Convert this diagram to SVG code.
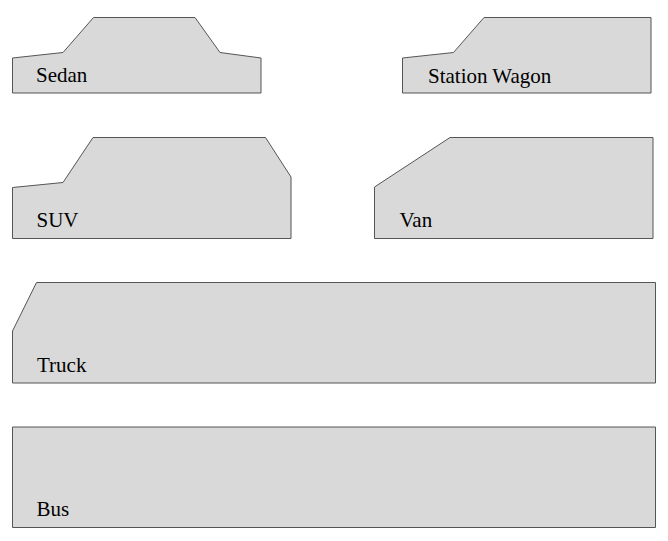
<svg xmlns="http://www.w3.org/2000/svg" width="668" height="541" viewBox="0 0 668 541">
<style>
.body{fill:#d9d9d9;stroke:#555555;stroke-width:1;stroke-linejoin:miter}
.lbl{font-size:21px;fill:#000000}
</style>
<rect width="668" height="541" fill="#ffffff"/>
<g font-family="Liberation Serif, Times New Roman, DejaVu Serif, serif">
<g id="sedan">
<path class="body" d="M12.5,58 L63,52.5 L93.5,17.5 L195,17.5 L220,52.5 L261,58 L261,93 L12.5,93 Z"/>
<text class="lbl" x="36" y="82">Sedan</text>
</g>
<g id="station-wagon">
<path class="body" d="M402.5,58 L453.5,52.5 L484,17.5 L651,17.5 L651,93 L402.5,93 Z"/>
<text class="lbl" x="428" y="82.5">Station Wagon</text>
</g>
<g id="suv">
<path class="body" d="M12.5,187.5 L63,182.5 L93,137.5 L265.5,137.5 L291,177 L291,238.5 L12.5,238.5 Z"/>
<text class="lbl" x="36.5" y="227">SUV</text>
</g>
<g id="van">
<path class="body" d="M374.5,187 L450,137.5 L653,137.5 L653,238.5 L374.5,238.5 Z"/>
<text class="lbl" x="399.5" y="227">Van</text>
</g>
<g id="truck">
<path class="body" d="M12.5,331 L36.5,282.5 L655.5,282.5 L655.5,383 L12.5,383 Z"/>
<text class="lbl" x="37" y="372">Truck</text>
</g>
<g id="bus">
<path class="body" d="M12.5,427 L655.5,427 L655.5,527.5 L12.5,527.5 Z"/>
<text class="lbl" x="36.5" y="516">Bus</text>
</g>
</g>
<g id="connectors"></g>
</svg>
